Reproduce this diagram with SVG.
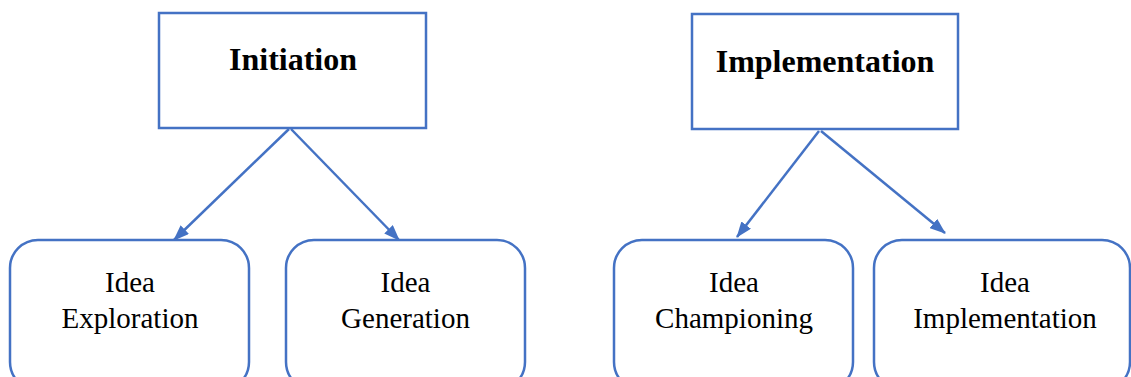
<svg xmlns="http://www.w3.org/2000/svg" width="1131" height="377" viewBox="0 0 1131 377">
<style>
.box{fill:#fff;stroke:#4472C4;stroke-width:2.5}
.edge{stroke:#4472C4;stroke-width:2.5;fill:none}
.title{font-family:"Liberation Serif","Times New Roman",serif;font-weight:bold;font-size:32px;fill:#000;text-anchor:middle}
.lbl{font-family:"Liberation Serif","Times New Roman",serif;font-size:29px;fill:#000;text-anchor:middle}
</style>
<defs>
<marker id="ah" viewBox="0 0 16 12" refX="15" refY="6" markerWidth="16" markerHeight="12" markerUnits="userSpaceOnUse" orient="auto">
<path d="M0,0 L16,6 L0,12 Z" fill="#4472C4"/>
</marker>
</defs>
<rect width="1131" height="377" fill="#fff"/>
<g id="connectors">
<line class="edge" x1="289" y1="129" x2="174" y2="240" marker-end="url(#ah)"/>
<line class="edge" x1="291" y1="129" x2="399" y2="240" marker-end="url(#ah)"/>
<line class="edge" x1="819" y1="131" x2="737" y2="237" marker-end="url(#ah)"/>
<line class="edge" x1="821" y1="131" x2="945" y2="233" marker-end="url(#ah)"/>
</g>
<g id="initiation">
<rect class="box" x="159" y="13" width="267" height="115"/>
<text class="title" x="293" y="70">Initiation</text>
</g>
<g id="implementation">
<rect class="box" x="692" y="14" width="266" height="115"/>
<text class="title" x="825" y="72">Implementation</text>
</g>
<g id="idea-exploration">
<rect class="box" x="10" y="240" width="239" height="150" rx="28" ry="28"/>
<text class="lbl" x="130" y="292">Idea</text>
<text class="lbl" x="130" y="328">Exploration</text>
</g>
<g id="idea-generation">
<rect class="box" x="286" y="240" width="239" height="150" rx="28" ry="28"/>
<text class="lbl" x="405.5" y="292">Idea</text>
<text class="lbl" x="405.5" y="328">Generation</text>
</g>
<g id="idea-championing">
<rect class="box" x="614" y="240" width="239" height="150" rx="28" ry="28"/>
<text class="lbl" x="734" y="292">Idea</text>
<text class="lbl" x="734" y="328">Championing</text>
</g>
<g id="idea-implementation">
<rect class="box" x="874" y="240" width="256" height="150" rx="28" ry="28"/>
<text class="lbl" x="1005" y="292">Idea</text>
<text class="lbl" x="1005" y="328">Implementation</text>
</g>
</svg>
